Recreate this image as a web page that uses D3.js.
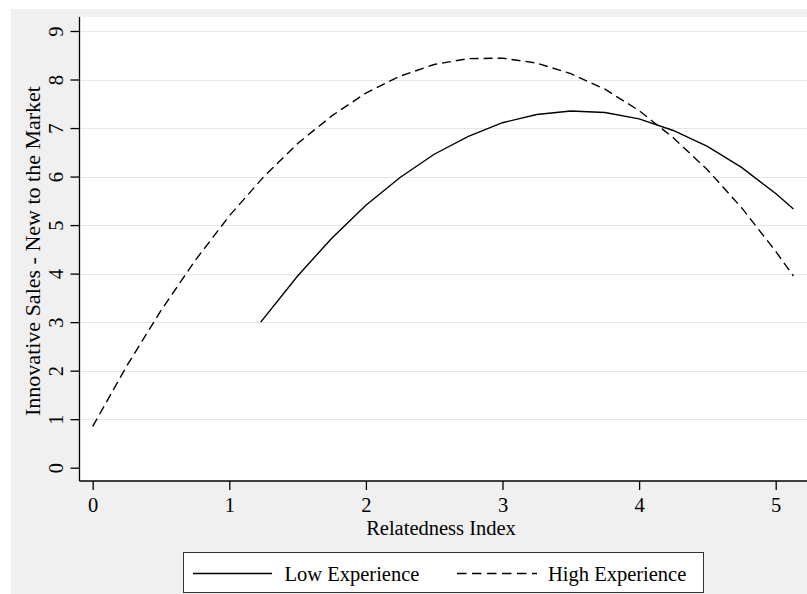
<!DOCTYPE html>
<html><head><meta charset="utf-8">
<script src="https://cdn.jsdelivr.net/npm/d3@7"></script>
<style>body{margin:0;background:#fff}svg{display:block}text{font-family:"Liberation Serif","Times New Roman",serif;fill:#000}</style>
</head><body><svg id="c" width="807" height="594"></svg>
<script>
const lowX = [1.23,1.5,1.75,2.0,2.25,2.5,2.75,3.0,3.25,3.5,3.75,4.0,4.25,4.5,4.75,5.0,5.13];
const lowY = [3.00,3.95,4.73,5.41,5.98,6.46,6.83,7.11,7.28,7.35,7.32,7.19,6.95,6.62,6.19,5.65,5.33];
const highX = [0,0.25,0.5,0.75,1.0,1.25,1.5,1.75,2.0,2.25,2.5,2.75,3.0,3.25,3.5,3.75,4.0,4.25,4.5,4.75,5.0,5.13];
const highY = [0.85,2.10,3.24,4.27,5.19,5.99,6.68,7.25,7.72,8.07,8.31,8.43,8.44,8.34,8.12,7.80,7.36,6.80,6.14,5.36,4.46,3.95];
const xTicks = [0,1,2,3,4,5];
const yTicks = [0,1,2,3,4,5,6,7,8,9];
const seriesNames = ["Low Experience","High Experience"];
const FS = 20.5;

const svg = d3.select("#c");
svg.append("rect").attr("x",11).attr("y",9).attr("width",796).attr("height",585).attr("fill","#f0f0f0");
const L=79.5, R=807, T=17, B=481;
svg.append("rect").attr("x",L).attr("y",T).attr("width",R-L).attr("height",B-T).attr("fill","#fff");

const x = d3.scaleLinear().domain([0,5]).range([92.7,775.7]);
const y = d3.scaleLinear().domain([0,9]).range([467.7,31]);

svg.append("g").selectAll("line").data(yTicks.filter(d=>d>0)).join("line")
  .attr("x1",L).attr("x2",R).attr("y1",d=>Math.round(y(d))+0.5).attr("y2",d=>Math.round(y(d))+0.5)
  .attr("stroke","#e6e6e6").attr("stroke-width",1.2);

const yAxis = svg.append("g").attr("transform",`translate(${L},0)`)
  .call(d3.axisLeft(y).tickValues(yTicks).tickSize(9).tickFormat(d3.format("d")));
yAxis.select(".domain").attr("d",`M0,${T}V${B}`).attr("stroke","#000").attr("stroke-width",1.3);
yAxis.selectAll(".tick line").attr("stroke","#000").attr("stroke-width",1.3);
yAxis.selectAll(".tick text").attr("font-size",FS).attr("font-family",null)
  .attr("transform","rotate(-90)").attr("x",0).attr("y",-16.5).attr("dy",null).attr("text-anchor","middle");

const xAxis = svg.append("g").attr("transform",`translate(0,${B})`)
  .call(d3.axisBottom(x).tickValues(xTicks).tickSize(9).tickFormat(d3.format("d")));
xAxis.select(".domain").attr("d",`M${L},0H${R}`).attr("stroke","#000").attr("stroke-width",1.3);
xAxis.selectAll(".tick line").attr("stroke","#000").attr("stroke-width",1.3);
xAxis.selectAll(".tick text").attr("font-size",FS).attr("font-family",null).attr("y",31).attr("dy",null);

svg.append("text").attr("x",441).attr("y",535).attr("text-anchor","middle").attr("font-size",FS).text("Relatedness Index");
svg.append("text").attr("transform","translate(40,251) rotate(-90)").attr("text-anchor","middle").attr("font-size",22)
  .text("Innovative Sales - New to the Market");

const line = d3.line().x(d=>x(d[0])).y(d=>y(d[1]));
svg.append("path").datum(lowX.map((v,i)=>[v,lowY[i]])).attr("d",line)
  .attr("fill","none").attr("stroke","#000").attr("stroke-width",1.4);
svg.append("path").datum(highX.map((v,i)=>[v,highY[i]])).attr("d",line)
  .attr("fill","none").attr("stroke","#000").attr("stroke-width",1.4).attr("stroke-dasharray","9,5");

const lg = svg.append("g");
lg.append("rect").attr("x",183.5).attr("y",552.5).attr("width",520).attr("height",40).attr("fill","#fff").attr("stroke","#333").attr("stroke-width",1);
lg.append("line").attr("x1",193).attr("x2",272).attr("y1",573.5).attr("y2",573.5).attr("stroke","#000").attr("stroke-width",1.4);
lg.append("text").attr("x",284.5).attr("y",581).attr("font-size",FS).text(seriesNames[0]);
lg.append("line").attr("x1",457).attr("x2",537).attr("y1",573.5).attr("y2",573.5).attr("stroke","#000").attr("stroke-width",1.4).attr("stroke-dasharray","9.5,5.5");
lg.append("text").attr("x",548).attr("y",581).attr("font-size",FS).text(seriesNames[1]);
</script></body></html>
